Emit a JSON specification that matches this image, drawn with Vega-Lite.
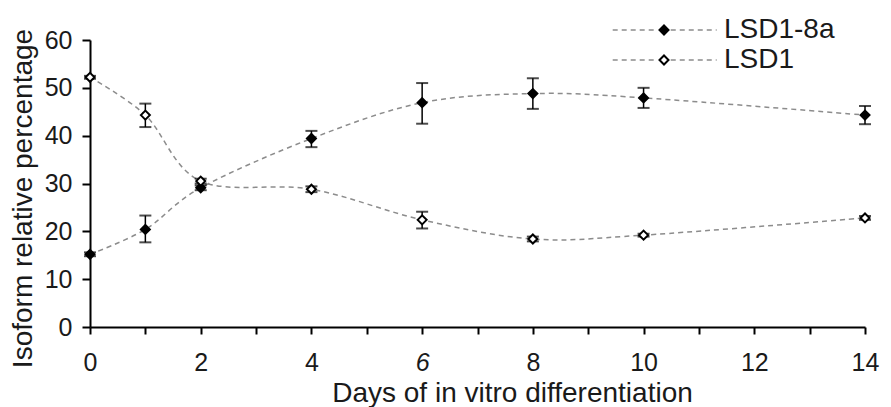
{
  "$schema": "https://vega.github.io/schema/vega-lite/v6.json",
  "width": 775,
  "height": 287,
  "autosize": {"type": "none"},
  "padding": {"left": 90, "top": 40, "right": 26, "bottom": 80},
  "background": "white",
  "config": {
    "view": {"stroke": null},
    "font": "Liberation Sans",
    "axis": {
      "domainColor": "black",
      "domainWidth": 2,
      "tickColor": "black",
      "tickWidth": 2,
      "grid": false,
      "labelFont": "Liberation Sans",
      "labelFontSize": 25,
      "labelColor": "#1a1a1a",
      "titleFont": "Liberation Sans",
      "titleFontSize": 28,
      "titleFontWeight": "normal",
      "titleColor": "#1a1a1a"
    }
  },
  "data": {
    "values": [
      {"day": 0, "series": "LSD1-8a", "value": 15.2, "lo": 14.8, "hi": 15.6},
      {"day": 1, "series": "LSD1-8a", "value": 20.4, "lo": 17.7, "hi": 23.3},
      {"day": 2, "series": "LSD1-8a", "value": 29.1, "lo": 28.6, "hi": 29.6},
      {"day": 4, "series": "LSD1-8a", "value": 39.4, "lo": 37.6, "hi": 41.0},
      {"day": 6, "series": "LSD1-8a", "value": 46.9, "lo": 42.5, "hi": 51.0},
      {"day": 8, "series": "LSD1-8a", "value": 48.8, "lo": 45.6, "hi": 52.0},
      {"day": 10, "series": "LSD1-8a", "value": 47.9, "lo": 45.8, "hi": 50.0},
      {"day": 14, "series": "LSD1-8a", "value": 44.3, "lo": 42.4, "hi": 46.2},
      {"day": 0, "series": "LSD1", "value": 52.2, "lo": 51.9, "hi": 52.5},
      {"day": 1, "series": "LSD1", "value": 44.3, "lo": 41.8, "hi": 46.7},
      {"day": 2, "series": "LSD1", "value": 30.5, "lo": 30.0, "hi": 31.0},
      {"day": 4, "series": "LSD1", "value": 28.8, "lo": 28.2, "hi": 29.4},
      {"day": 6, "series": "LSD1", "value": 22.4, "lo": 20.6, "hi": 24.1},
      {"day": 8, "series": "LSD1", "value": 18.4, "lo": 17.9, "hi": 18.9},
      {"day": 10, "series": "LSD1", "value": 19.2, "lo": 18.9, "hi": 19.5},
      {"day": 14, "series": "LSD1", "value": 22.8, "lo": 22.4, "hi": 23.2}
    ]
  },
  "encoding": {
    "x": {
      "field": "day",
      "type": "quantitative",
      "scale": {"domain": [0, 14], "nice": false, "zero": false},
      "axis": {
        "title": "Days of in vitro differentiation",
        "values": [0, 1, 2, 3, 4, 5, 6, 7, 8, 9, 10, 11, 12, 13, 14],
        "labelExpr": "datum.value % 2 === 0 ? datum.label : ''",
        "labelFontStyle": {"condition": {"test": "datum.value === 6", "value": "italic"}, "value": "normal"},
        "tickSize": 7,
        "labelPadding": 16,
        "labelFlush": false,
        "labelOverlap": false,
        "titleX": 422,
        "titleY": 74,
        "titleAlign": "center",
        "titleBaseline": "alphabetic",
        "titleAnchor": null
      }
    },
    "y": {
      "field": "value",
      "type": "quantitative",
      "scale": {"domain": [0, 60], "nice": false},
      "axis": {
        "title": "Isoform relative percentage",
        "values": [0, 10, 20, 30, 40, 50, 60],
        "tickSize": 8,
        "labelPadding": 10,
        "labelFlush": false,
        "titleX": -59,
        "titleY": 158,
        "titleAngle": -90,
        "titleAlign": "center",
        "titleBaseline": "alphabetic",
        "titleAnchor": null
      }
    }
  },
  "layer": [
    {
      "mark": {"type": "line", "interpolate": "cardinal", "stroke": "#8c8c8c", "strokeWidth": 1.5},
      "encoding": {
        "strokeDash": {
          "field": "series",
          "type": "nominal",
          "scale": {"range": [[5, 4], [5, 4]]},
          "legend": {
            "orient": "none",
            "legendX": 560,
            "legendY": -24,
            "title": null,
            "padding": 0,
            "symbolType": "M-11.4,0H-1.5M1.5,0H11.7",
            "symbolSize": 81,
            "symbolStrokeColor": "#8c8c8c",
            "symbolStrokeWidth": 1.5,
            "labelFontSize": 28,
            "labelFont": "Liberation Sans",
            "labelExpr": "''",
            "labelOffset": 46
          }
        }
      }
    },
    {
      "mark": {"type": "rule", "color": "black", "strokeWidth": 1.5},
      "encoding": {
        "y": {"field": "lo", "type": "quantitative"},
        "y2": {"field": "hi"}
      }
    },
    {
      "mark": {"type": "tick", "orient": "horizontal", "color": "black", "size": 12, "thickness": 2},
      "encoding": {
        "y": {"field": "lo", "type": "quantitative"}
      }
    },
    {
      "mark": {"type": "tick", "orient": "horizontal", "color": "black", "size": 12, "thickness": 2},
      "encoding": {
        "y": {"field": "hi", "type": "quantitative"}
      }
    },
    {
      "mark": {"type": "point", "shape": "diamond", "filled": true, "stroke": "black", "strokeWidth": 2, "size": 81, "opacity": 1},
      "encoding": {
        "fill": {
          "field": "series",
          "type": "nominal",
          "scale": {"domain": ["LSD1-8a", "LSD1"], "range": ["black", "white"]},
          "legend": {
            "orient": "none",
            "legendX": 560,
            "legendY": -24,
            "title": null,
            "padding": 0,
            "symbolType": "diamond",
            "symbolSize": 81,
            "symbolStrokeColor": "black",
            "symbolStrokeWidth": 2,
            "symbolOpacity": 1,
            "labelFontSize": 28,
            "labelFont": "Liberation Sans",
            "labelColor": "#1a1a1a",
            "labelOffset": 46
          }
        }
      }
    }
  ]
}
